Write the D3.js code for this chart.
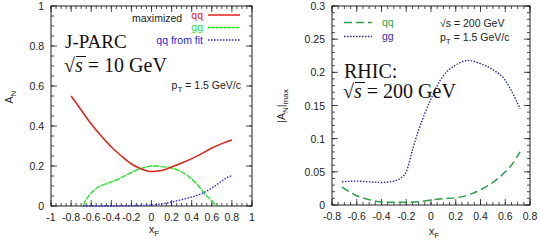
<!DOCTYPE html>
<html>
<head>
<meta charset="utf-8">
<script src="https://cdn.jsdelivr.net/npm/d3@7"></script>
<style>
  body { margin: 0; background: #fff; }
  svg { display: block; }
  .tick-label { font-family: "Liberation Sans", Arial, sans-serif; font-size: 10.5px; fill: #222; }
  .serif { font-family: "Liberation Serif", "Times New Roman", serif; fill: #111; }
</style>
</head>
<body>
<svg id="chart"></svg>
<script>
// ---- J-PARC panel data ----
const jpQqX = [-0.8, -0.7, -0.6, -0.5, -0.4, -0.3, -0.2, -0.1, 0, 0.1, 0.2, 0.3, 0.4, 0.5, 0.6, 0.7, 0.8];
const jpQqMax = [0.55, 0.48, 0.41, 0.35, 0.295, 0.25, 0.21, 0.185, 0.172, 0.177, 0.195, 0.215, 0.237, 0.262, 0.29, 0.312, 0.33];
const jpGgX = [-0.68, -0.66, -0.63, -0.55, -0.45, -0.35, -0.25, -0.15, -0.05, 0, 0.05, 0.1, 0.2, 0.3, 0.35, 0.45, 0.54, 0.6, 0.645];
const jpGg = [0, 0.025, 0.047, 0.088, 0.112, 0.13, 0.155, 0.18, 0.195, 0.2, 0.2, 0.197, 0.19, 0.17, 0.155, 0.11, 0.055, 0.025, 0];
const jpFitX = [-0.68, -0.4, -0.2, 0, 0.1, 0.2, 0.3, 0.4, 0.5, 0.6, 0.7, 0.75, 0.8];
const jpFit = [0, 0, 0.002, 0.005, 0.01, 0.02, 0.032, 0.045, 0.062, 0.09, 0.125, 0.142, 0.152];
const jpXTicks = [-1, -0.8, -0.6, -0.4, -0.2, 0, 0.2, 0.4, 0.6, 0.8, 1];
const jpYTicks = [0, 0.2, 0.4, 0.6, 0.8, 1];

// ---- RHIC panel data ----
const rhX = [-0.72, -0.6, -0.5, -0.4, -0.3, -0.25, -0.2, -0.15, -0.1, -0.05, 0, 0.05, 0.1, 0.2, 0.3, 0.4, 0.5, 0.6, 0.65, 0.72];
const rhQq = [0.027, 0.014, 0.008, 0.0045, 0.004, 0.004, 0.004, 0.0045, 0.005, 0.006, 0.0075, 0.0085, 0.0095, 0.011, 0.015, 0.023, 0.034, 0.05, 0.06, 0.08];
const rhGg = [0.035, 0.036, 0.035, 0.034, 0.036, 0.04, 0.05, 0.083, 0.113, 0.138, 0.16, 0.18, 0.195, 0.211, 0.218, 0.213, 0.204, 0.188, 0.172, 0.145];
const rhXTicks = [-0.8, -0.6, -0.4, -0.2, 0, 0.2, 0.4, 0.6, 0.8];
const rhYTicks = [0, 0.05, 0.1, 0.15, 0.2, 0.25, 0.3];

const svg = d3.select("#chart").attr("width", 540).attr("height", 242);

// 画一个 gnuplot 风格的框和刻度
function drawFrame(g, x, y, xTicks, yTicks, xMinor, yMinor, yFmt) {
  const [x0, x1] = x.range();
  const [y0, y1] = y.range();
  g.append("rect")
    .attr("x", x0).attr("y", y1)
    .attr("width", x1 - x0).attr("height", y0 - y1)
    .attr("fill", "none").attr("stroke", "#222").attr("stroke-width", 1);

  const dom = x.domain();
  const minorX = d3.range(Math.round(dom[0] / xMinor), Math.round(dom[1] / xMinor) + 1).map(i => i * xMinor);
  const ydom = y.domain();
  const minorY = d3.range(Math.round(ydom[0] / yMinor), Math.round(ydom[1] / yMinor) + 1).map(i => i * yMinor);

  const ticks = g.append("g").attr("stroke", "#222").attr("stroke-width", 0.8);
  minorX.forEach(v => {
    const px = x(v);
    ticks.append("line").attr("x1", px).attr("x2", px).attr("y1", y0).attr("y2", y0 - 3);
    ticks.append("line").attr("x1", px).attr("x2", px).attr("y1", y1).attr("y2", y1 + 3);
  });
  xTicks.forEach(v => {
    const px = x(v);
    ticks.append("line").attr("x1", px).attr("x2", px).attr("y1", y0).attr("y2", y0 - 6);
    ticks.append("line").attr("x1", px).attr("x2", px).attr("y1", y1).attr("y2", y1 + 6);
  });
  minorY.forEach(v => {
    const py = y(v);
    ticks.append("line").attr("x1", x0).attr("x2", x0 + 3).attr("y1", py).attr("y2", py);
    ticks.append("line").attr("x1", x1).attr("x2", x1 - 3).attr("y1", py).attr("y2", py);
  });
  yTicks.forEach(v => {
    const py = y(v);
    ticks.append("line").attr("x1", x0).attr("x2", x0 + 6).attr("y1", py).attr("y2", py);
    ticks.append("line").attr("x1", x1).attr("x2", x1 - 6).attr("y1", py).attr("y2", py);
  });

  g.selectAll(".xl").data(xTicks).enter().append("text")
    .attr("class", "tick-label")
    .attr("x", d => x(d)).attr("y", y0 + 15)
    .attr("text-anchor", "middle")
    .text(d => String(+d.toFixed(2)));
  g.selectAll(".yl").data(yTicks).enter().append("text")
    .attr("class", "tick-label")
    .attr("x", x0 - 7).attr("y", d => y(d) + 4)
    .attr("text-anchor", "end")
    .text(yFmt);
}

function addSub(t, main, sub, extra) {
  t.append("tspan").text(main);
  t.append("tspan").attr("dy", 3).attr("font-size", "8px").text(sub);
  if (extra) t.append("tspan").attr("dy", -3).text(extra);
}

// ---------- 左图 J-PARC ----------
const xL = d3.scaleLinear().domain([-1, 1]).range([51, 252]);
const yL = d3.scaleLinear().domain([0, 1]).range([206, 6]);
const gL = svg.append("g");
drawFrame(gL, xL, yL, jpXTicks, jpYTicks, 0.05, 0.05, d => String(+d.toFixed(1)));

const lineL = d3.line().x(d => xL(d[0])).y(d => yL(d[1])).curve(d3.curveMonotoneX);
gL.append("path").datum(d3.zip(jpGgX, jpGg)).attr("d", lineL)
  .attr("fill", "none").attr("stroke", "#2de02d").attr("stroke-width", 1.4).attr("stroke-dasharray", "6,1");
gL.append("path").datum(d3.zip(jpFitX, jpFit)).attr("d", lineL)
  .attr("fill", "none").attr("stroke", "#2a2ad0").attr("stroke-width", 1.4).attr("stroke-dasharray", "1.5,1.5");
gL.append("path").datum(d3.zip(jpQqX, jpQqMax)).attr("d", lineL)
  .attr("fill", "none").attr("stroke", "#e0201b").attr("stroke-width", 1.5);

// 图例
const legL = [
  { label: "qq", color: "#e0201b", dash: null, y: 15 },
  { label: "gg", color: "#2de02d", dash: "3,1", y: 27.5 },
  { label: "qq from fit", color: "#2a2ad0", dash: "1.5,1.5", y: 40 }
];
gL.append("text").attr("class", "tick-label").attr("x", 132).attr("y", 22).attr("font-size", "10.5px")
  .attr("fill", "#333").text("maximized");
legL.forEach(l => {
  gL.append("text").attr("class", "tick-label").attr("x", 203).attr("y", l.y + 3.5)
    .attr("text-anchor", "end").style("fill", l.color).attr("font-size", "10.5px").text(l.label);
  gL.append("line").attr("x1", 208).attr("x2", 240).attr("y1", l.y).attr("y2", l.y)
    .attr("stroke", l.color).attr("stroke-width", 1.5).attr("stroke-dasharray", l.dash);
});

gL.append("text").attr("class", "serif").attr("x", 65).attr("y", 48).attr("font-size", "19px").text("J-PARC");
const sqL = gL.append("text").attr("class", "serif").attr("x", 64).attr("y", 72).attr("font-size", "20px");
sqL.append("tspan").text("√");
sqL.append("tspan").attr("font-style", "italic").text("s");
sqL.append("tspan").text(" = 10 GeV");
gL.append("line").attr("x1", 76).attr("x2", 86).attr("y1", 56.5).attr("y2", 56.5).attr("stroke", "#111").attr("stroke-width", 1);

const ptL = gL.append("text").attr("class", "tick-label").attr("x", 241).attr("y", 89)
  .attr("text-anchor", "end").attr("font-size", "10px");
addSub(ptL, "p", "T", " = 1.5 GeV/c");

const axL = gL.append("text").attr("class", "tick-label").attr("transform", "translate(13,97) rotate(-90)")
  .attr("text-anchor", "middle");
addSub(axL, "A", "N");
const xtL = gL.append("text").attr("class", "tick-label").attr("x", 149).attr("y", 233);
addSub(xtL, "x", "F");

// ---------- 右图 RHIC ----------
const xR = d3.scaleLinear().domain([-0.8, 0.8]).range([332, 530]);
const yR = d3.scaleLinear().domain([0, 0.3]).range([205, 6]);
const gR = svg.append("g");
drawFrame(gR, xR, yR, rhXTicks, rhYTicks, 0.05, 0.01, d => String(+d.toFixed(2)));

const lineR = d3.line().x(d => xR(d[0])).y(d => yR(d[1])).curve(d3.curveMonotoneX);
gR.append("path").datum(d3.zip(rhX, rhQq)).attr("d", lineR)
  .attr("fill", "none").attr("stroke", "#2f9e4a").attr("stroke-width", 1.5).attr("stroke-dasharray", "8,4");
gR.append("path").datum(d3.zip(rhX, rhGg)).attr("d", lineR)
  .attr("fill", "none").attr("stroke", "#2e2e8c").attr("stroke-width", 1.4).attr("stroke-dasharray", "1.5,1.5");

const legR = [
  { label: "qq", color: "#2f9e4a", dash: "8,4", y: 22.5 },
  { label: "gg", color: "#2e2e8c", dash: "1.5,1.5", y: 36.5 }
];
legR.forEach(l => {
  gR.append("line").attr("x1", 344).attr("x2", 372).attr("y1", l.y).attr("y2", l.y)
    .attr("stroke", l.color).attr("stroke-width", 1.5).attr("stroke-dasharray", l.dash);
  gR.append("text").attr("class", "tick-label").attr("x", 382).attr("y", l.y + 3.5)
    .style("fill", l.color).text(l.label);
});
gR.append("text").attr("class", "tick-label").attr("x", 440).attr("y", 27).text("√s = 200 GeV");
const ptR = gR.append("text").attr("class", "tick-label").attr("x", 440).attr("y", 41);
addSub(ptR, "p", "T", " = 1.5 GeV/c");

gR.append("text").attr("class", "serif").attr("x", 344).attr("y", 78).attr("font-size", "20px").text("RHIC:");
const sqR = gR.append("text").attr("class", "serif").attr("x", 343).attr("y", 98).attr("font-size", "20px");
sqR.append("tspan").text("√");
sqR.append("tspan").attr("font-style", "italic").text("s");
sqR.append("tspan").text(" = 200 GeV");
gR.append("line").attr("x1", 355).attr("x2", 365).attr("y1", 82.5).attr("y2", 82.5).attr("stroke", "#111").attr("stroke-width", 1);

const axR = gR.append("text").attr("class", "tick-label").attr("transform", "translate(285,106) rotate(-90)")
  .attr("text-anchor", "middle");
axR.append("tspan").text("|A");
axR.append("tspan").attr("dy", 3).attr("font-size", "8px").text("N");
axR.append("tspan").attr("dy", -3).text("|");
axR.append("tspan").attr("dy", 3).attr("font-size", "8px").text("max");
const xtR = gR.append("text").attr("class", "tick-label").attr("x", 429).attr("y", 235);
addSub(xtR, "x", "F");
</script>
</body>
</html>
